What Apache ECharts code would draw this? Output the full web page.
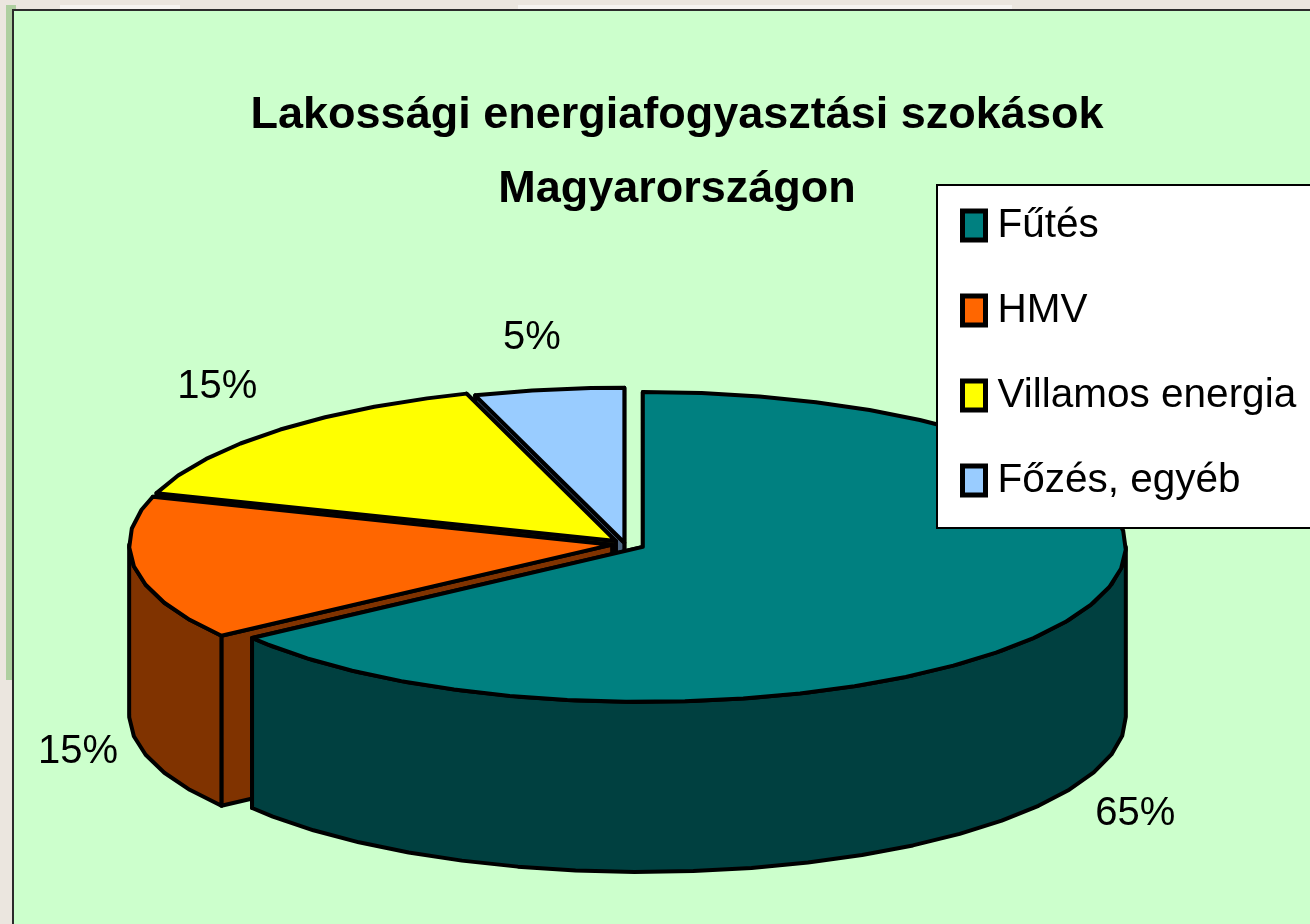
<!DOCTYPE html>
<html>
<head>
<meta charset="utf-8">
<title>Lakossági energiafogyasztási szokások</title>
<script src="https://cdn.jsdelivr.net/npm/echarts@6/dist/echarts.min.js"></script>
<style>
  html, body { margin: 0; padding: 0; background: #ebe6df; }
  #chart { width: 1310px; height: 924px; }
</style>
</head>
<body>
<div id="chart"></div>
<script>
const categories = ['Fűtés', 'HMV', 'Villamos energia', 'Főzés, egyéb']
const shares = [65, 15, 15, 5]

const topColors = ['#008080', '#ff6600', '#ffff00', '#99ccff']
const sideColors = ['#004040', '#803300', '#808000', '#4d6680']
// how far each slice is pulled out of the pie
const explode = [20, 13, 13, 4]
// label offset from the rim point at the middle of the slice
const labelOffsets = [[62, 27], [-57, 13], [-57, -44], [-17, -52]]
const labelDropped = [true, true, false, false]

const CX = 625
const CY = 544
const RX = 483
const RY = 155
const DEPTH = 170
const STEP = 7 // degrees per rim facet, the original outline is faceted too
const total = shares.reduce((a, b) => a + b, 0)
const rad = (deg) => (deg * Math.PI) / 180

// angle is clockwise from 12 o'clock
const rimPoint = (c, deg) => [c[0] + RX * Math.sin(rad(deg)), c[1] - RY * Math.cos(rad(deg))]
const drop = (p) => [p[0], p[1] + DEPTH]

const arcPoints = (c, from, to) => {
  const pts = []
  for (let a = from; a < to; a += STEP) pts.push(rimPoint(c, a))
  pts.push(rimPoint(c, to))
  return pts
}

const outline = { stroke: '#000', lineWidth: 4, lineJoin: 'round' }
const poly = (points, fill) => ({
  type: 'polygon',
  shape: { points },
  style: { fill, ...outline }
})

const renderSlice = (index) => (params, api) => {
  const value = api.value(0)
  const before = api.value(1)
  const from = (before / total) * 360
  const to = ((before + value) / total) * 360
  const mid = (from + to) / 2
  const c = [
    CX + explode[index] * Math.sin(rad(mid)),
    CY - (explode[index] * RY * Math.cos(rad(mid))) / RX
  ]
  const children = []

  // cut faces, the one further back goes first
  const faces = [from, to].sort((a, b) => Math.cos(rad(b)) - Math.cos(rad(a)))
  faces.forEach((a) => {
    const p = rimPoint(c, a)
    children.push(poly([c, p, drop(p), drop(c)], sideColors[index]))
  })

  // outer wall, only the front half of the rim can be seen
  const wallFrom = Math.max(from, 90)
  const wallTo = Math.min(to, 270)
  if (wallTo > wallFrom) {
    const rim = arcPoints(c, wallFrom, wallTo)
    children.push(poly(rim.concat(rim.map(drop).reverse()), sideColors[index]))
  }

  children.push(poly([c].concat(arcPoints(c, from, to)), topColors[index]))

  return { type: 'group', children }
}

const labelSeries = () => ({
  type: 'custom',
  coordinateSystem: 'none',
  silent: true,
  z: 10,
  data: shares.map((v, i) => [v, shares.slice(0, i).reduce((a, b) => a + b, 0), i]),
  renderItem: (params, api) => {
    const value = api.value(0)
    const i = api.value(2)
    const mid = ((api.value(1) + value / 2) / total) * 360
    const c = [
      CX + explode[i] * Math.sin(rad(mid)),
      CY - (explode[i] * RY * Math.cos(rad(mid))) / RX
    ]
    const p = rimPoint(c, mid)
    return {
      type: 'text',
      x: p[0] + labelOffsets[i][0],
      y: p[1] + (labelDropped[i] ? DEPTH : 0) + labelOffsets[i][1],
      style: {
        text: value + '%',
        fill: '#000',
        font: '40px "Liberation Sans", Arial, sans-serif',
        align: 'center',
        verticalAlign: 'middle'
      }
    }
  }
})

// back slices first so the front ones overlap them
const drawOrder = [3, 2, 1, 0]
const sliceSeries = drawOrder.map((i, order) => ({
  name: categories[i],
  type: 'custom',
  coordinateSystem: 'none',
  silent: true,
  z: 2 + order,
  itemStyle: { color: topColors[i] },
  data: [[shares[i], shares.slice(0, i).reduce((a, b) => a + b, 0)]],
  renderItem: renderSlice(i)
}))

const chart = echarts.init(document.getElementById('chart'), null, { renderer: 'canvas' })
chart.setOption({
  animation: false,
  backgroundColor: '#ebe6df',
  graphic: [
    { type: 'rect', silent: true, z: -3, shape: { x: 6, y: 5, width: 10, height: 675 }, style: { fill: '#aecfa0' } },
    { type: 'rect', silent: true, z: -3, shape: { x: 60, y: 5, width: 120, height: 4 }, style: { fill: '#f6f4f1' } },
    { type: 'rect', silent: true, z: -3, shape: { x: 518, y: 5, width: 494, height: 4 }, style: { fill: '#f6f4f1' } },
    { type: 'rect', silent: true, z: -2, shape: { x: 13, y: 10, width: 1310, height: 930 }, style: { fill: '#ccffcc', stroke: '#2b2b2b', lineWidth: 2 } }
  ],
  title: {
    text: 'Lakossági energiafogyasztási szokások\nMagyarországon',
    left: 672,
    top: 74,
    textAlign: 'center',
    textStyle: {
      fontFamily: '"Liberation Sans", Arial, sans-serif',
      fontWeight: 'bold',
      fontSize: 45,
      lineHeight: 74,
      color: '#000'
    }
  },
  legend: {
    data: categories,
    orient: 'vertical',
    left: 937,
    top: 185,
    z: 20,
    padding: [18, 40, 25, 23],
    itemWidth: 23,
    itemHeight: 29,
    itemGap: 40,
    icon: 'rect',
    selectedMode: false,
    backgroundColor: '#fff',
    borderColor: '#000',
    borderWidth: 2,
    itemStyle: { borderColor: '#000', borderWidth: 5 },
    textStyle: {
      fontFamily: '"Liberation Sans", Arial, sans-serif',
      fontSize: 40.5,
      lineHeight: 45,
      color: '#000',
      padding: [0, 0, 0, 7]
    }
  },
  series: sliceSeries.concat([labelSeries()])
})
</script>
</body>
</html>
